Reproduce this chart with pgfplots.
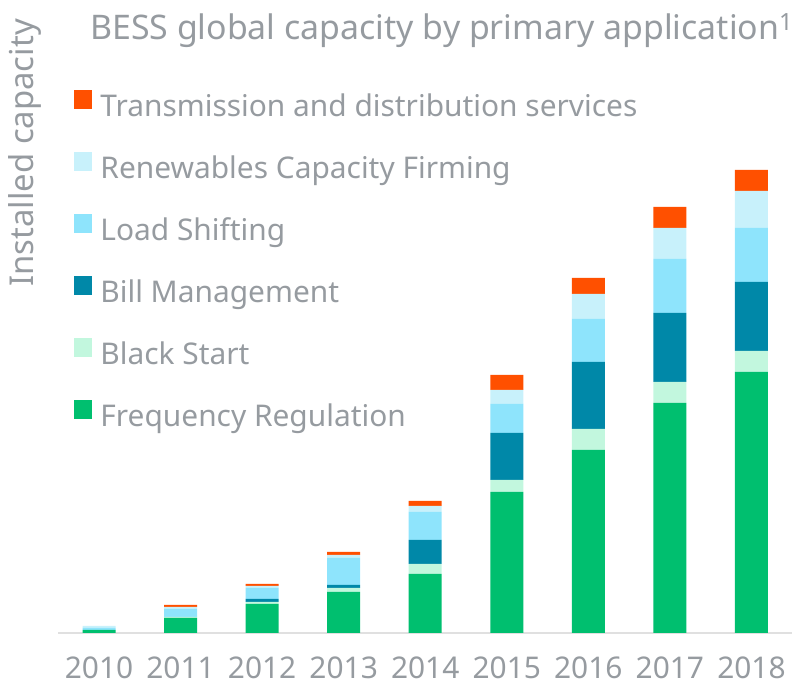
\documentclass[border=0pt]{standalone}
\usepackage{fontspec}
\setmainfont{Noto Sans}
\usepackage{pgfplots}
\pgfplotsset{compat=1.18}
\definecolor{txt}{RGB}{150,155,160}
\definecolor{cfreq}{HTML}{00BF6F}
\definecolor{cblack}{HTML}{C2F7DE}
\definecolor{cbill}{HTML}{0088A8}
\definecolor{cload}{HTML}{8EE4FC}
\definecolor{crenew}{HTML}{C8F1FB}
\definecolor{ctd}{HTML}{FF5000}
\begin{document}
\begin{tikzpicture}
\path[use as bounding box] (0,0) rectangle (793bp,686bp);
\begin{axis}[
  at={(99bp,53bp)}, anchor=origin,
  scale only axis, width=734bp, height=473bp,
  xmin=-0.5, xmax=8.5, ymin=0, ymax=473,
  ybar stacked, bar width=33bp,
  axis x line*=bottom, axis y line=none,
  x axis line style={draw=black!12, line width=1.2bp, -},
  xtick={0,...,8},
  xticklabels={2010,2011,2012,2013,2014,2015,2016,2017,2018},
  major tick length=0pt,
  xticklabel style={font=\fontsize{30}{36}\selectfont, text=txt, anchor=north, inner sep=0pt, yshift=-24bp},
  legend image code/.code={\fill[#1] (0bp,-1bp) rectangle (18bp,18bp);},
  reverse legend,
  legend cell align=left,
  legend style={at={(axis description cs:0.0218,1.148)}, anchor=north west, draw=none, fill=none, inner sep=0pt,
    font=\fontsize{30}{36}\selectfont, text=txt, row sep=28.5bp, column sep=8bp,
    nodes={inner sep=0pt, text height=24bp, text depth=7bp},
  },
]
\addplot[fill=cfreq, draw=none] coordinates {(0,3) (1,15) (2,29) (3,41) (4,59) (5,141) (6,183) (7,230) (8,261)};
\addplot[fill=cblack, draw=none] coordinates {(0,0) (1,1) (2,2) (3,4) (4,10) (5,12) (6,21) (7,21) (8,21)};
\addplot[fill=cbill, draw=none] coordinates {(0,0) (1,0) (2,3) (3,3) (4,24) (5,47) (6,67) (7,69) (8,69)};
\addplot[fill=cload, draw=none] coordinates {(0,2) (1,8) (2,11) (3,27) (4,28) (5,29) (6,43) (7,54) (8,54)};
\addplot[fill=crenew, draw=none] coordinates {(0,2) (1,2) (2,2) (3,3) (4,6) (5,14) (6,25) (7,31) (8,37)};
\addplot[fill=ctd, draw=none] coordinates {(0,0) (1,2) (2,2) (3,3) (4,5) (5,15) (6,16) (7,21) (8,21)};
\legend{Frequency Regulation, Black Start, Bill Management, Load Shifting, Renewables Capacity Firming, Transmission and distribution services}
\end{axis}
\node[anchor=base west, inner sep=0pt, text=txt, font=\fontsize{34}{40}\selectfont] at (90bp,646bp) {BESS global capacity by primary application\textsuperscript{1}};
\node[rotate=90, inner sep=0pt, text=txt, font=\fontsize{33}{39}\selectfont] at (25bp,533bp) {Installed capacity};
\end{tikzpicture}
\end{document}
